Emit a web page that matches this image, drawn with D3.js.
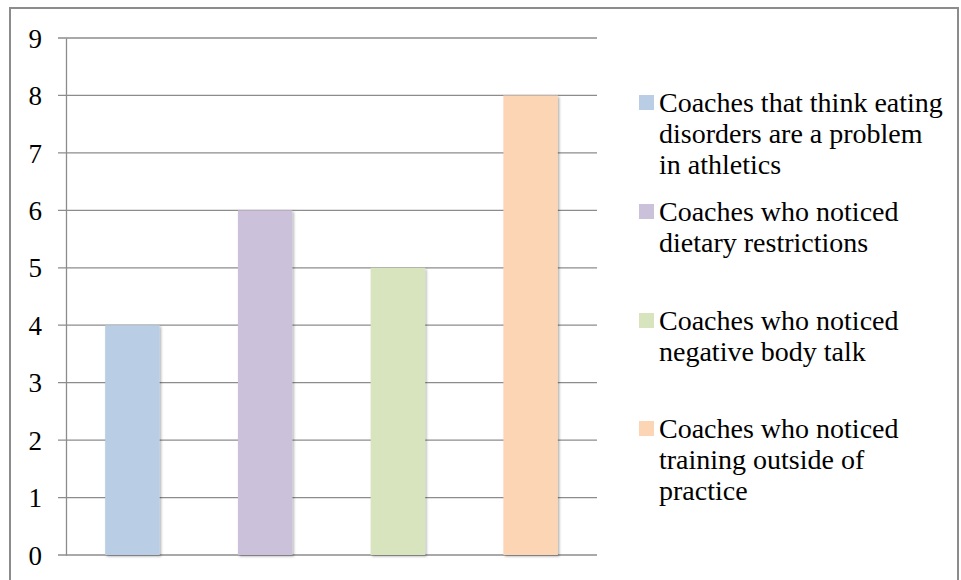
<!DOCTYPE html>
<html><head><meta charset="utf-8">
<script src="https://cdn.jsdelivr.net/npm/d3@7"></script>
<style>html,body{margin:0;padding:0;background:#fff;overflow:hidden}</style>
</head><body>
<script>
const categories = [
  "Coaches that think eating disorders are a problem in athletics",
  "Coaches who noticed dietary restrictions",
  "Coaches who noticed negative body talk",
  "Coaches who noticed training outside of practice"
];
const legendLines = [
  ["Coaches that think eating", "disorders are a problem", "in athletics"],
  ["Coaches who noticed", "dietary restrictions"],
  ["Coaches who noticed", "negative body talk"],
  ["Coaches who noticed", "training outside of", "practice"]
];
const values = [4, 6, 5, 8];
const colors = ["#B9CDE5", "#CCC1DA", "#D7E4BD", "#FCD5B5"];
const yTicks = [0,1,2,3,4,5,6,7,8,9];

const W = 961, H = 580;
const svg = d3.select("body").append("svg").attr("width", W).attr("height", H);
const font = "'Liberation Serif', serif";

const defs = svg.append("defs");
const f = defs.append("filter").attr("id","sh").attr("x","-20%").attr("y","-5%").attr("width","140%").attr("height","110%");
f.append("feDropShadow").attr("dx",1.5).attr("dy",1.5).attr("stdDeviation",1.2).attr("flood-color","#000").attr("flood-opacity",0.3);

svg.append("rect").attr("x",10).attr("y",8).attr("width",948).attr("height",600)
  .attr("fill","#fff").attr("stroke","#8c8c8c").attr("stroke-width",2);

const pL = 66, pR = 597, pT = 38, pB = 555;
const y = d3.scaleLinear().domain([0,9]).range([pB, pT]);
const x = d3.scaleBand().domain(d3.range(categories.length)).range([pL, pR]).paddingInner(0.59).paddingOuter(0.295);

// gridlines
svg.append("g").selectAll("line").data(yTicks).join("line")
  .attr("x1", 58).attr("x2", pR).attr("y1", d=>y(d)).attr("y2", d=>y(d))
  .attr("stroke","#8c8c8c").attr("stroke-width",1.3);

// y axis
const yAxis = d3.axisLeft(y).tickValues(yTicks).tickSize(0).tickPadding(24).tickFormat(d3.format("d"));
const ga = svg.append("g").attr("transform",`translate(${pL},0)`).call(yAxis);
ga.select(".domain").attr("stroke","#8c8c8c").attr("stroke-width",1.3);
ga.selectAll("text").attr("font-family",font).attr("font-size",27).attr("fill","#000").attr("dy","0.34em");

// bars
svg.append("g").selectAll("rect").data(values).join("rect")
  .attr("x",(d,i)=>x(i)).attr("width",x.bandwidth())
  .attr("y",d=>y(d)).attr("height",d=>pB - y(d))
  .attr("fill",(d,i)=>colors[i]).attr("filter","url(#sh)");

// legend
const legY = [95, 204, 313, 421];
const lg = svg.append("g");
legendLines.forEach((lines,i)=>{
  lg.append("rect").attr("x",639).attr("y",legY[i]).attr("width",15).attr("height",15).attr("fill",colors[i]);
  const t = lg.append("text").attr("x",659).attr("y",legY[i]+17)
    .attr("font-family",font).attr("font-size",28).attr("fill","#000");
  lines.forEach((l,j)=>t.append("tspan").attr("x",659).attr("dy", j===0?0:31).text(l));
});
</script>
</body></html>
